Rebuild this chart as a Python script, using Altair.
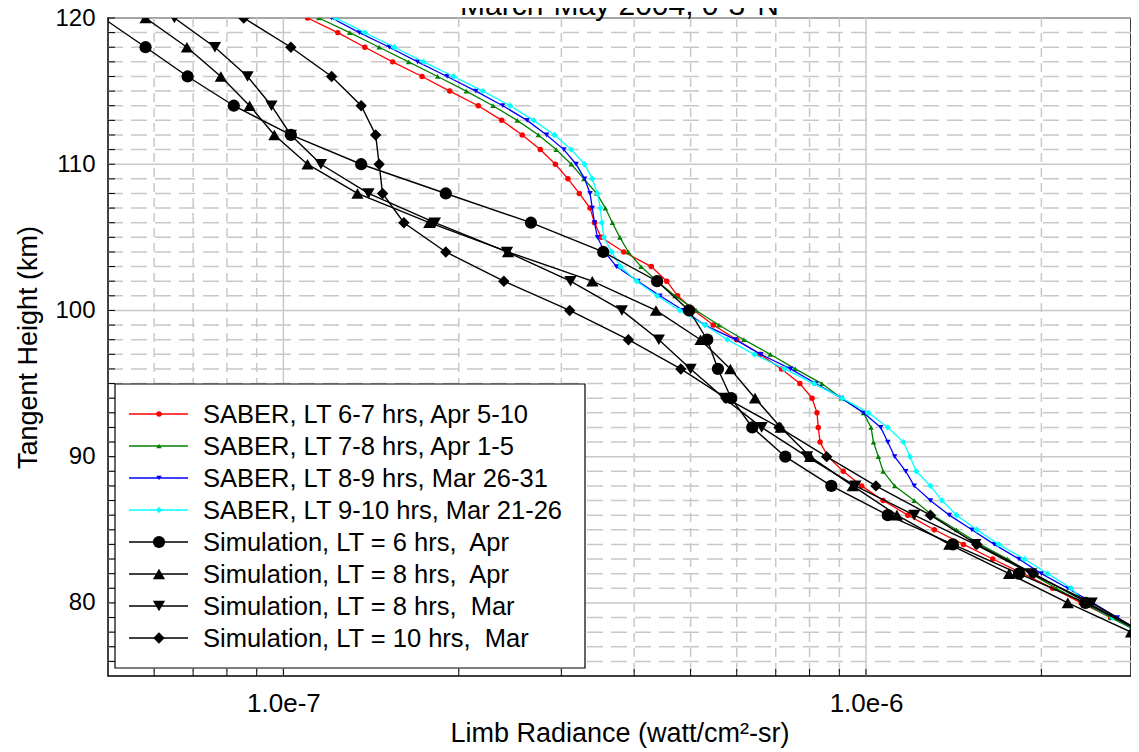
import altair as alt
import pandas as pd

FONT = "Liberation Sans"

# SABER profiles, 1 km steps from 120 down to 78 km
saber_h = list(range(120, 77, -1))
red_v = [1.10e-7, 1.24e-7, 1.38e-7, 1.54e-7, 1.73e-7, 1.93e-7, 2.16e-7, 2.37e-7, 2.57e-7, 2.76e-7,
         2.93e-7, 3.08e-7, 3.22e-7, 3.36e-7, 3.42e-7, 3.51e-7, 3.84e-7, 4.28e-7, 4.55e-7, 4.75e-7,
         5.07e-7, 5.47e-7, 6.0e-7, 6.58e-7, 7.16e-7, 7.7e-7, 8.08e-7, 8.24e-7, 8.28e-7, 8.34e-7,
         8.6e-7, 9.14e-7, 9.83e-7, 1.07e-6, 1.18e-6, 1.31e-6, 1.47e-6, 1.65e-6, 1.86e-6, 2.09e-6,
         2.34e-6, 2.63e-6, 2.96e-6]
green_v = [1.15e-7, 1.30e-7, 1.46e-7, 1.64e-7, 1.84e-7, 2.06e-7, 2.29e-7, 2.52e-7, 2.74e-7, 2.94e-7,
           3.12e-7, 3.28e-7, 3.45e-7, 3.57e-7, 3.67e-7, 3.78e-7, 3.91e-7, 4.11e-7, 4.38e-7, 4.70e-7,
           5.11e-7, 5.59e-7, 6.17e-7, 6.85e-7, 7.56e-7, 8.4e-7, 9.08e-7, 9.9e-7, 1.02e-6, 1.03e-6,
           1.05e-6, 1.07e-6, 1.12e-6, 1.21e-6, 1.30e-6, 1.43e-6, 1.57e-6, 1.75e-6, 1.92e-6, 2.12e-6,
           2.36e-6, 2.63e-6, 2.94e-6]
blue_v = [1.21e-7, 1.35e-7, 1.52e-7, 1.70e-7, 1.91e-7, 2.14e-7, 2.38e-7, 2.62e-7, 2.83e-7, 3.03e-7,
          3.18e-7, 3.29e-7, 3.36e-7, 3.39e-7, 3.42e-7, 3.46e-7, 3.56e-7, 3.73e-7, 4.06e-7, 4.43e-7,
          4.86e-7, 5.29e-7, 5.97e-7, 6.6e-7, 7.42e-7, 8.2e-7, 9.08e-7, 9.9e-7, 1.06e-6, 1.09e-6,
          1.12e-6, 1.17e-6, 1.21e-6, 1.29e-6, 1.39e-6, 1.52e-6, 1.66e-6, 1.83e-6, 2.0e-6, 2.22e-6,
          2.45e-6, 2.70e-6, 2.96e-6]
cyan_v = [1.23e-7, 1.38e-7, 1.55e-7, 1.74e-7, 1.96e-7, 2.20e-7, 2.45e-7, 2.69e-7, 2.92e-7, 3.12e-7,
          3.29e-7, 3.39e-7, 3.46e-7, 3.50e-7, 3.52e-7, 3.55e-7, 3.66e-7, 3.79e-7, 4.04e-7, 4.38e-7,
          4.79e-7, 5.29e-7, 5.78e-7, 6.43e-7, 7.25e-7, 8.14e-7, 9.1e-7, 1.01e-6, 1.09e-6, 1.16e-6,
          1.19e-6, 1.22e-6, 1.29e-6, 1.35e-6, 1.43e-6, 1.55e-6, 1.69e-6, 1.87e-6, 2.05e-6, 2.25e-6,
          2.38e-6, 2.65e-6, 2.96e-6]

# simulations, 2 km steps from 120 down to 78 km
sim_h = list(range(120, 77, -2))
sim6apr_v = [4.9e-8, 5.80e-8, 6.85e-8, 8.22e-8, 1.03e-7, 1.36e-7, 1.90e-7, 2.66e-7, 3.54e-7, 4.38e-7,
             4.97e-7, 5.34e-7, 5.57e-7, 5.87e-7, 6.38e-7, 7.27e-7, 8.72e-7, 1.09e-6, 1.41e-6, 1.83e-6,
             2.38e-6, 2.97e-6]
sim8apr_v = [5.80e-8, 6.83e-8, 7.81e-8, 8.75e-8, 9.65e-8, 1.10e-7, 1.34e-7, 1.78e-7, 2.43e-7, 3.39e-7,
             4.36e-7, 5.2e-7, 5.85e-7, 6.45e-7, 7.14e-7, 8.02e-7, 9.49e-7, 1.13e-6, 1.39e-6, 1.76e-6,
             2.22e-6, 2.85e-6]
sim8mar_v = [6.5e-8, 7.63e-8, 8.68e-8, 9.54e-8, 1.03e-7, 1.16e-7, 1.40e-7, 1.82e-7, 2.42e-7, 3.11e-7,
             3.81e-7, 4.41e-7, 5.0e-7, 5.71e-7, 6.62e-7, 7.92e-7, 9.59e-7, 1.21e-6, 1.54e-6, 1.92e-6,
             2.44e-6, 2.98e-6]
sim10mar_v = [8.55e-8, 1.03e-7, 1.21e-7, 1.36e-7, 1.44e-7, 1.46e-7, 1.48e-7, 1.61e-7, 1.90e-7, 2.39e-7,
              3.10e-7, 3.91e-7, 4.81e-7, 5.75e-7, 7.09e-7, 8.56e-7, 1.04e-6, 1.29e-6, 1.55e-6, 1.94e-6,
              2.40e-6, 2.98e-6]

NB = "\u00a0"
labels = ["SABER, LT 6-7 hrs, Apr 5-10", "SABER, LT 7-8 hrs, Apr 1-5",
          "SABER, LT 8-9 hrs, Mar 26-31", "SABER, LT 9-10 hrs, Mar 21-26",
          f"Simulation, LT = 6 hrs,{NB} Apr", f"Simulation, LT = 8 hrs,{NB} Apr",
          f"Simulation, LT = 8 hrs,{NB} Mar", f"Simulation, LT = 10 hrs,{NB} Mar"]
colors = ["#ff0000", "#008000", "#0000ff", "#00ffff", "black", "black", "black", "black"]
shapes = ["circle", "triangle-up", "triangle-down", "diamond",
          "circle", "triangle-up", "triangle-down", "diamond"]
sizes = [30, 30, 30, 40, 150, 150, 150, 130]
series = [(saber_h, red_v), (saber_h, green_v), (saber_h, blue_v), (saber_h, cyan_v),
          (sim_h, sim6apr_v), (sim_h, sim8apr_v), (sim_h, sim8mar_v), (sim_h, sim10mar_v)]

x_major = [1e-7, 1e-6]
x_minor = [6e-8, 7e-8, 8e-8, 9e-8, 2e-7, 3e-7, 4e-7, 5e-7, 6e-7, 7e-7, 8e-7, 9e-7, 2e-6]
y_major = [80, 90, 100, 110, 120]
y_minor = [h for h in range(76, 120) if h % 10 != 0]

W, H = 1023, 658
xs = alt.Scale(type="log", domain=[5e-8, 2.85e-6], nice=False)
ys = alt.Scale(domain=[75, 120], nice=False)

rows = []
for i, (hs, vs) in enumerate(series):
    for h, v in zip(hs, vs):
        rows.append({"s": i, "h": h, "v": v})
df = pd.DataFrame(rows)

GRID = "#c8c8c8"
layers = [
    alt.Chart(pd.DataFrame({"v": x_minor})).mark_rule(color=GRID, strokeWidth=1.5, strokeDash=[9, 6])
    .encode(x=alt.X("v:Q", scale=xs)),
    alt.Chart(pd.DataFrame({"h": y_minor})).mark_rule(color=GRID, strokeWidth=1.5, strokeDash=[16, 8])
    .encode(y=alt.Y("h:Q", scale=ys)),
    alt.Chart(pd.DataFrame({"v": x_major})).mark_rule(color=GRID, strokeWidth=1.5)
    .encode(x=alt.X("v:Q", scale=xs)),
    alt.Chart(pd.DataFrame({"h": y_major})).mark_rule(color=GRID, strokeWidth=1.5)
    .encode(y=alt.Y("h:Q", scale=ys)),
    # inward ticks
    alt.Chart(pd.DataFrame({"v": x_minor + x_major})).mark_rule(color="black")
    .encode(x=alt.X("v:Q", scale=xs), y=alt.value(H), y2=alt.value(H - 7)),
    alt.Chart(pd.DataFrame({"h": y_minor + y_major})).mark_rule(color="black")
    .encode(y=alt.Y("h:Q", scale=ys), x=alt.value(0), x2=alt.value(7)),
]

for i in range(8):
    d = df[df.s == i]
    base = alt.Chart(d).encode(
        x=alt.X("v:Q", scale=xs, title="Limb Radiance (watt/cm²-sr)",
                axis=alt.Axis(values=x_major, labelExpr="format(datum.value, '.1e')", grid=False,
                              ticks=False, labelPadding=14, labelFontSize=26, titlePadding=4)),
        y=alt.Y("h:Q", scale=ys, title="Tangent Height (km)",
                axis=alt.Axis(values=y_major, grid=False, ticks=False, labelPadding=13,
                              labelFontSize=24, titlePadding=12)),
        order="h:Q",
    )
    layers.append(base.mark_line(color=colors[i], strokeWidth=1.3 if i < 4 else 1.4, clip=True))
    layers.append(base.mark_point(shape=shapes[i], size=sizes[i], filled=True, opacity=1,
                                  color=colors[i], clip=True))

# legend box
layers.append(alt.Chart(pd.DataFrame({"a": [0]})).mark_rect(fill="white", stroke="black", strokeWidth=1.2)
              .encode(x=alt.value(7), x2=alt.value(477), y=alt.value(366), y2=alt.value(650)))
for i in range(8):
    yy = 396 + 32 * i
    one = pd.DataFrame({"t": [labels[i]]})
    layers.append(alt.Chart(one).mark_rule(color=colors[i], strokeWidth=1.5)
                  .encode(x=alt.value(21), x2=alt.value(80), y=alt.value(yy)))
    layers.append(alt.Chart(one).mark_point(shape=shapes[i], size=sizes[i], filled=True, opacity=1,
                                            color=colors[i])
                  .encode(x=alt.value(51), y=alt.value(yy)))
    layers.append(alt.Chart(one).mark_text(align="left", baseline="middle", font=FONT, fontSize=25.5)
                  .encode(text="t:N", x=alt.value(95), y=alt.value(yy + 1)))

layers.append(alt.Chart(pd.DataFrame({"t": ["March-May 2004, 0-3°N"]}))
              .mark_text(align="center", baseline="alphabetic", font=FONT, fontSize=30)
              .encode(text="t:N", x=alt.value(W / 2), y=alt.value(-3)))

chart = (
    alt.layer(*layers)
    .properties(width=W, height=H, autosize=alt.AutoSizeParams(type="none"),
                padding={"left": 100, "top": 10, "right": 0, "bottom": 74})
    .configure_view(stroke="black", strokeWidth=1.5)
    .configure_axis(labelFont=FONT, titleFont=FONT, titleFontSize=27,
                    labelColor="black", titleColor="black", titleFontWeight="normal",
                    domain=False)
)
chart.save("out.html", embed_options={"renderer": "svg", "actions": False})
